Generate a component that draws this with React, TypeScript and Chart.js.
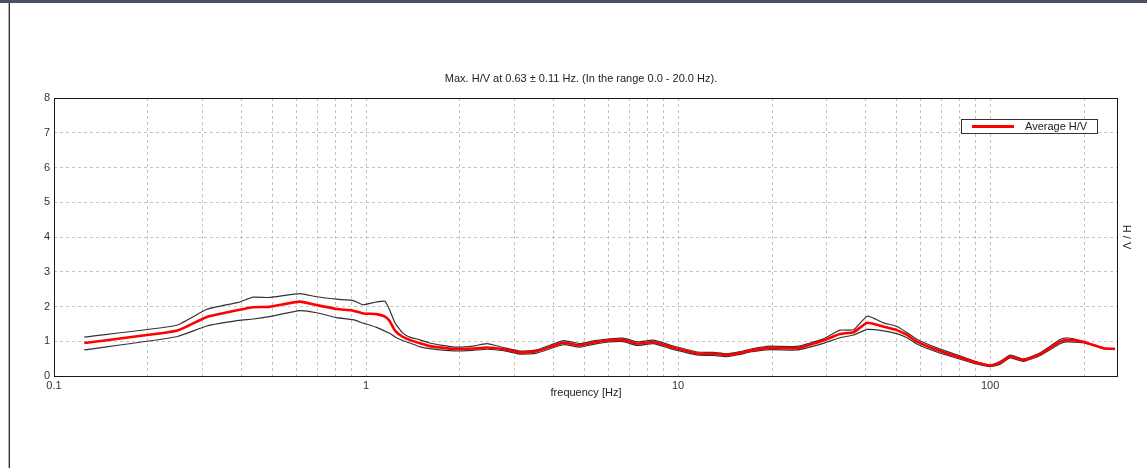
import React, { useEffect, useRef } from "react";
import { Chart, registerables } from "chart.js";

Chart.register(...registerables);

const freqs = [
  0.125, 0.247, 0.309, 0.39, 0.435, 0.49, 0.614, 0.695, 0.806, 0.91, 0.98, 1.08, 1.15, 1.19, 1.24, 1.31,
  1.38, 1.49, 1.6, 1.73, 1.95, 2.2, 2.44, 2.76, 3.12, 3.52, 4.29, 4.85, 5.35, 6.05, 6.68, 7.37, 8.34,
  9.43, 11.5, 13.0, 14.3, 15.8, 17.0, 19.7, 24.0, 29.2, 33.0, 36.5, 40.4, 45.5, 50.2, 54.1, 58.2, 67.5,
  78.2, 88.4, 100, 107.7, 115.9, 128, 144.6, 167.6, 176, 199, 231, 251,
];

const avgHV = [
  0.95, 1.3, 1.7, 1.9, 1.98, 1.99, 2.14, 2.04, 1.93, 1.88, 1.8, 1.78, 1.71, 1.58, 1.3, 1.13,
  1.04, 0.94, 0.86, 0.82, 0.77, 0.79, 0.82, 0.77, 0.68, 0.71, 0.96, 0.88, 0.96, 1.03, 1.04, 0.93, 0.98,
  0.84, 0.65, 0.64, 0.6, 0.66, 0.73, 0.81, 0.8, 1.02, 1.21, 1.26, 1.53, 1.42, 1.32, 1.18, 0.99, 0.75,
  0.56, 0.41, 0.3, 0.38, 0.56, 0.46, 0.63, 0.99, 1.04, 0.98, 0.8, 0.78,
];

const upperHV = [
  1.12, 1.46, 1.92, 2.12, 2.27, 2.26, 2.37, 2.28, 2.21, 2.17, 2.05, 2.13, 2.15, 1.9, 1.52, 1.24,
  1.12, 1.04, 0.95, 0.89, 0.83, 0.86, 0.93, 0.82, 0.72, 0.75, 1.02, 0.93, 1.01, 1.07, 1.09, 0.98, 1.03,
  0.89, 0.69, 0.68, 0.64, 0.7, 0.77, 0.86, 0.85, 1.07, 1.32, 1.33, 1.72, 1.53, 1.43, 1.25, 1.06, 0.81,
  0.61, 0.44, 0.31, 0.42, 0.6, 0.49, 0.67, 1.05, 1.1, 1.0, 0.8, 0.78,
];

const lowerHV = [
  0.75, 1.13, 1.44, 1.6, 1.64, 1.71, 1.88, 1.82, 1.68, 1.62, 1.52, 1.4, 1.29, 1.23, 1.12, 1.02,
  0.95, 0.84, 0.79, 0.75, 0.72, 0.74, 0.77, 0.73, 0.63, 0.66, 0.9, 0.83, 0.91, 0.98, 0.99, 0.88, 0.93,
  0.79, 0.61, 0.59, 0.56, 0.62, 0.69, 0.76, 0.75, 0.94, 1.1, 1.18, 1.34, 1.3, 1.22, 1.1, 0.92, 0.69,
  0.51, 0.37, 0.27, 0.34, 0.52, 0.42, 0.59, 0.93, 0.98, 0.96, 0.79, 0.78,
];

const xGridTicks = [
  0.1, 0.2, 0.3, 0.4, 0.5, 0.6, 0.7, 0.8, 0.9,
  1, 2, 3, 4, 5, 6, 7, 8, 9,
  10, 20, 30, 40, 50, 60, 70, 80, 90,
  100, 200,
];
const xLabelTicks: Record<string, string> = { "0.1": "0.1", "1": "1", "10": "10", "100": "100" };

const titleText = "Max. H/V at 0.63 ± 0.11 Hz. (In the range 0.0 - 20.0 Hz).";
const xTitle = "frequency [Hz]";
const yTitle = "H / V";
const legendLabel = "Average H/V";

const FONT = "11px 'Liberation Sans', Arial, sans-serif";

export default function App() {
  const ref = useRef<HTMLCanvasElement | null>(null);

  useEffect(() => {
    if (!ref.current) return;
    const toPts = (ys: number[]) => freqs.map((f, i) => ({ x: f, y: ys[i] }));

    const decor = {
      id: "decor",
      afterDraw(chart: any) {
        const { ctx, chartArea: a } = chart;
        ctx.save();
        ctx.strokeStyle = "#1a1a1a";
        ctx.lineWidth = 1;
        ctx.strokeRect(Math.round(a.left) + 0.5, Math.round(a.top) + 0.5, Math.round(a.right - a.left), Math.round(a.bottom - a.top));
        ctx.font = FONT;
        ctx.fillStyle = "#222";
        ctx.textBaseline = "middle";
        ctx.textAlign = "center";
        ctx.fillText(titleText, 581, 79);
        ctx.fillText(xTitle, 586, 393);
        ctx.save();
        ctx.translate(1126, 237);
        ctx.rotate(Math.PI / 2);
        ctx.fillText(yTitle, 0, 0);
        ctx.restore();
        ctx.fillStyle = "#fff";
        ctx.fillRect(961, 119, 136, 14);
        ctx.strokeStyle = "#333";
        ctx.strokeRect(961.5, 119.5, 136, 14);
        ctx.strokeStyle = "#ff0000";
        ctx.lineWidth = 3;
        ctx.beginPath();
        ctx.moveTo(972, 126.5);
        ctx.lineTo(1014, 126.5);
        ctx.stroke();
        ctx.fillStyle = "#222";
        ctx.textAlign = "left";
        ctx.fillText(legendLabel, 1025, 127);
        ctx.restore();
      },
    };

    const chart = new Chart(ref.current, {
      type: "line",
      data: {
        datasets: [
          {
            label: legendLabel,
            data: toPts(avgHV),
            borderColor: "#ff0000",
            borderWidth: 2.6,
            pointRadius: 0,
            tension: 0.15,
            order: 0,
          },
          {
            label: "upper",
            data: toPts(upperHV),
            borderColor: "#333",
            borderWidth: 1.2,
            pointRadius: 0,
            tension: 0.15,
            order: 1,
          },
          {
            label: "lower",
            data: toPts(lowerHV),
            borderColor: "#333",
            borderWidth: 1.2,
            pointRadius: 0,
            tension: 0.15,
            order: 1,
          },
        ],
      },
      options: {
        animation: false,
        responsive: false,
        devicePixelRatio: 1,
        parsing: false as any,
        layout: { padding: { top: 98, right: 30, left: 0, bottom: 0 } },
        plugins: { legend: { display: false }, title: { display: false }, tooltip: { enabled: false } },
        scales: {
          x: {
            type: "logarithmic",
            min: 0.1,
            max: 255,
            afterBuildTicks: (scale: any) => {
              scale.ticks = xGridTicks.map((v) => ({ value: v }));
            },
            afterFit: (scale: any) => {
              scale.height = 92;
            },
            ticks: {
              autoSkip: false,
              maxRotation: 0,
              minRotation: 0,
              padding: 3,
              color: "#333",
              font: { family: "'Liberation Sans', Arial, sans-serif", size: 11 },
              callback: (v: any) => xLabelTicks[String(v)] ?? "",
            },
            grid: { color: "#c4c4c4", lineWidth: 1, drawTicks: false },
            border: { display: false, dash: [3, 3] },
          },
          y: {
            type: "linear",
            min: 0,
            max: 8,
            afterFit: (scale: any) => {
              scale.width = 54;
            },
            ticks: {
              stepSize: 1,
              padding: 4,
              color: "#333",
              font: { family: "'Liberation Sans', Arial, sans-serif", size: 11 },
            },
            grid: { color: "#c4c4c4", lineWidth: 1, drawTicks: false },
            border: { display: false, dash: [3, 3] },
          },
        },
      },
      plugins: [decor],
    } as any);

    return () => chart.destroy();
  }, []);

  return (
    <div style={{ position: "fixed", left: 0, top: 0, width: 1147, height: 468, background: "#fff" }}>
      <div style={{ position: "absolute", left: 0, top: 0, width: 1147, height: 3, background: "#4a5262" }} />
      <div style={{ position: "absolute", left: 8, top: 3, width: 1, height: 465, background: "#b0b0b0" }} />
      <div style={{ position: "absolute", left: 9, top: 3, width: 1, height: 465, background: "#333" }} />
      <canvas ref={ref} width={1147} height={468} style={{ position: "absolute", left: 0, top: 0, width: 1147, height: 468 }} />
    </div>
  );
}
